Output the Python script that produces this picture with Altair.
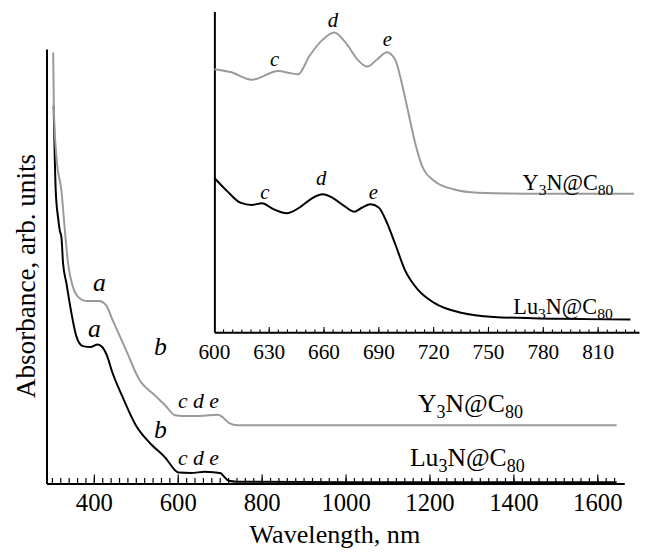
import altair as alt
import pandas as pd

# ---------------- main spectra ----------------
y3n_wl = [301.9, 303.5, 310, 321.6, 330, 337.2, 349, 360.7, 380.5, 411.8, 427.5, 443, 474.6,
          505.9, 545.2, 568.7, 592.2, 623.5, 660, 695, 705, 721.6, 741, 900, 1200, 1645]
y3n_abs = [0.992, 0.862, 0.748, 0.673, 0.58, 0.507, 0.452, 0.430, 0.420, 0.420, 0.411, 0.377, 0.309,
           0.241, 0.202, 0.180, 0.157, 0.155, 0.156, 0.158, 0.153, 0.139, 0.134, 0.134, 0.134, 0.134]

lu3n_wl = [303.0, 308, 313.6, 317.6, 321.6, 325.4, 333.4, 345.2, 357, 372.5, 392.2, 407.8, 418.8,
           430.6, 442.4, 465.9, 498.8, 536.5, 569.4, 593, 600, 630.6, 663.5, 690, 700, 710, 720,
           740, 1000, 1645]
lu3n_abs = [0.87, 0.673, 0.611, 0.582, 0.566, 0.507, 0.461, 0.393, 0.339, 0.316, 0.314, 0.320, 0.314,
            0.293, 0.257, 0.202, 0.134, 0.089, 0.059, 0.030, 0.025, 0.024, 0.027, 0.025, 0.024, 0.015,
            0.006, 0.004, 0.003, 0.003]

# ---------------- inset spectra ----------------
y3n_in_wl = [600, 608.8, 620.5, 635, 640.4, 645.8, 652, 659.3, 665.6, 671.9, 679.1, 683.6, 689,
             694.4, 698.9, 702.5, 706.1, 709.7, 713.4, 720.5, 731.4, 744, 771, 829.6]
y3n_in_abs = [0.82, 0.811, 0.787, 0.814, 0.809, 0.804, 0.861, 0.912, 0.934, 0.902, 0.845, 0.828, 0.850,
              0.873, 0.850, 0.778, 0.686, 0.594, 0.522, 0.471, 0.445, 0.435, 0.432, 0.432]

lu3n_in_wl = [600, 607, 614.2, 620.5, 626, 632.3, 639.5, 646.6, 653, 659.3, 664.7, 671, 676.4, 680.9,
              685.4, 689.9, 694.4, 698.9, 704.3, 711.5, 720.5, 735, 753, 789, 827.7]
lu3n_in_abs = [0.481, 0.44, 0.404, 0.397, 0.402, 0.384, 0.371, 0.389, 0.416, 0.430, 0.419, 0.394, 0.376,
               0.389, 0.399, 0.389, 0.342, 0.276, 0.194, 0.132, 0.091, 0.061, 0.048, 0.042, 0.040]

# ---------------- labels ----------------
ab_text = ["a", "a", "b", "b"]
ab_wl = [411.8, 400, 557.6, 557.6]
ab_abs = [0.461, 0.355, 0.314, 0.123]

cde_text = ["c d e", "c d e"]
cde_wl = [648, 648]
cde_abs = [0.189, 0.059]

y3n_parts = [("Y", False), ("3", True), ("N@C", False), ("80", True)]
lu3n_parts = [("Lu", False), ("3", True), ("N@C", False), ("80", True)]
name_wl = [1296.5, 1289]
name_abs = [0.184, 0.059]

in_pk_text = ["c", "d", "e", "c", "d", "e"]
in_pk_wl = [633, 664.9, 694.6, 627.6, 658.4, 687]
in_pk_abs = [0.849, 0.969, 0.911, 0.434, 0.477, 0.434]

in_name_wl = [793.5, 790.8]
in_name_abs = [0.465, 0.08]

x_title = "Wavelength, nm"
y_title = "Absorbance, arb. units"

main_ticks_values = [400, 600, 800, 1000, 1200, 1400, 1600]
main_tick_labels = ["400", "600", "800", "1000", "1200", "1400", "1600"]
main_minor = list(range(300, 1641, 20))
inset_ticks_values = [600, 630, 660, 690, 720, 750, 780, 810]
inset_tick_labels = ["600", "630", "660", "690", "720", "750", "780", "810"]
inset_minor = list(range(605, 831, 5))
inset_major = [630, 660, 690, 720, 750, 780, 810]

FONT = "Liberation Serif"
GRAY = "#9a9a9a"
W, H = 600, 478
MAIN_BOTTOM = 478
INSET_BOTTOM = 325

GLYPH_W = {"Y": 0.722, "L": 0.611, "u": 0.5, "N": 0.722, "@": 0.921, "C": 0.667,
           "0": 0.5, "3": 0.5, "8": 0.5}

sx_main = alt.Scale(domain=[286, 1663], range=[0, 585], nice=False, zero=False)
sy_main = alt.Scale(domain=[0, 1], range=[MAIN_BOTTOM, 38], nice=False)
sx_in = alt.Scale(domain=[600, 832.4], range=[170, 600], nice=False, zero=False)
sy_in = alt.Scale(domain=[0, 1], range=[INSET_BOTTOM, 0], nice=False)

ax_main_x = alt.Axis(title=None, labels=False, ticks=False, grid=False,
                     domainColor="black", domainWidth=2, orient="bottom")
ax_main_y = alt.Axis(title=None, labels=False, ticks=False, grid=False,
                     domainColor="black", domainWidth=2, orient="left")
ax_in_x = alt.Axis(title=None, labels=False, ticks=False, grid=False,
                   domainColor="black", domainWidth=2,
                   orient="bottom", offset=-(MAIN_BOTTOM - INSET_BOTTOM))
ax_in_y = alt.Axis(title=None, labels=False, ticks=False, grid=False, domainColor="black", domainWidth=2,
                   orient="left", offset=-170)


def enc(sx, sy, axx=None, axy=None, fx="wl", fy="abs"):
    if axx is None:
        x = alt.X(f"{fx}:Q", scale=sx)
        y = alt.Y(f"{fy}:Q", scale=sy)
    else:
        x = alt.X(f"{fx}:Q", scale=sx, axis=axx)
        y = alt.Y(f"{fy}:Q", scale=sy, axis=axy)
    return x, y


def mxy(fx="wl", fy="abs"):
    return enc(sx_main, sy_main, None, None, fx, fy)


def ixy(fx="wl", fy="abs"):
    return enc(sx_in, sy_in, None, None, fx, fy)


def formula(parts, wl, ab, fs, xyf):
    sub_fs = fs * 0.7
    widths = [sum(GLYPH_W[ch] for ch in txt) * (sub_fs if sub else fs) for txt, sub in parts]
    total = sum(widths)
    layers = []
    pos = -total / 2
    for (txt, sub), w in zip(parts, widths):
        x, y = xyf()
        layers.append(
            alt.Chart(pd.DataFrame({"wl": [wl], "abs": [ab], "txt": [txt]})).mark_text(
                font=FONT, fontSize=sub_fs if sub else fs, align="left", baseline="alphabetic",
                dx=pos, dy=fs * 0.33 + (fs * 0.22 if sub else 0), color="black"
            ).encode(x=x, y=y, text="txt:N")
        )
        pos += w
    return layers


df_lu = pd.DataFrame({"wl": lu3n_wl, "abs": lu3n_abs})
df_y = pd.DataFrame({"wl": y3n_wl, "abs": y3n_abs})
df_lu_in = pd.DataFrame({"wl": lu3n_in_wl, "abs": lu3n_in_abs})
df_y_in = pd.DataFrame({"wl": y3n_in_wl, "abs": y3n_in_abs})

# ---------------- main panel ----------------
mx0, my0 = enc(sx_main, sy_main, ax_main_x, ax_main_y)
main_layers = [
    alt.Chart(df_lu).mark_line(color="black", strokeWidth=2, interpolate="monotone").encode(x=mx0, y=my0),
]
x, y = mxy()
main_layers.append(alt.Chart(df_y).mark_line(color=GRAY, strokeWidth=2, interpolate="monotone").encode(x=x, y=y))
x, y = mxy("t")
main_layers.append(alt.Chart(pd.DataFrame({"t": main_minor})).mark_rule(color="black", strokeWidth=1.2).encode(
    x=x, y=alt.value(MAIN_BOTTOM), y2=alt.value(MAIN_BOTTOM - 5.5)))
main_layers.append(alt.Chart(pd.DataFrame({"t": main_ticks_values})).mark_rule(color="black", strokeWidth=1.2).encode(
    x=x, y=alt.value(MAIN_BOTTOM), y2=alt.value(MAIN_BOTTOM - 9)))
main_layers.append(alt.Chart(pd.DataFrame({"t": main_ticks_values, "lab": main_tick_labels})).mark_text(
    font=FONT, fontSize=25, baseline="alphabetic", align="center", color="black").encode(
    x=x, y=alt.value(MAIN_BOTTOM + 28), text="lab:N"))
x, y = mxy()
main_layers.append(alt.Chart(pd.DataFrame({"wl": ab_wl, "abs": ab_abs, "txt": ab_text})).mark_text(
    font=FONT, fontStyle="italic", fontSize=26, baseline="middle", color="black").encode(
    x=x, y=y, text="txt:N"))
main_layers.append(alt.Chart(pd.DataFrame({"wl": cde_wl, "abs": cde_abs, "txt": cde_text})).mark_text(
    font=FONT, fontStyle="italic", fontSize=22, baseline="middle", color="black").encode(
    x=x, y=y, text="txt:N"))
main_layers += formula(y3n_parts, name_wl[0], name_abs[0], 26, mxy)
main_layers += formula(lu3n_parts, name_wl[1], name_abs[1], 26, mxy)

# axis titles
main_layers.append(alt.Chart(pd.DataFrame({"txt": [x_title]})).mark_text(
    font=FONT, fontSize=26.5, baseline="alphabetic", align="center", color="black").encode(
    x=alt.value(292), y=alt.value(MAIN_BOTTOM + 60.5), text="txt:N"))
main_layers.append(alt.Chart(pd.DataFrame({"txt": [y_title]})).mark_text(
    font=FONT, fontSize=27.5, baseline="alphabetic", align="center", angle=270, color="black").encode(
    x=alt.value(-12), y=alt.value(268), text="txt:N"))

# ---------------- inset panel ----------------
ix0, iy0 = enc(sx_in, sy_in, ax_in_x, ax_in_y)
inset_layers = [
    alt.Chart(df_lu_in).mark_line(color="black", strokeWidth=2, interpolate="monotone").encode(x=ix0, y=iy0),
]
x, y = ixy()
inset_layers.append(alt.Chart(df_y_in).mark_line(color=GRAY, strokeWidth=2, interpolate="monotone").encode(x=x, y=y))
x, y = ixy("t")
inset_layers.append(alt.Chart(pd.DataFrame({"t": inset_minor})).mark_rule(color="black", strokeWidth=1.1).encode(
    x=x, y=alt.value(INSET_BOTTOM), y2=alt.value(INSET_BOTTOM - 3)))
inset_layers.append(alt.Chart(pd.DataFrame({"t": inset_major})).mark_rule(color="black", strokeWidth=1.1).encode(
    x=x, y=alt.value(INSET_BOTTOM), y2=alt.value(INSET_BOTTOM - 5.5)))
inset_layers.append(alt.Chart(pd.DataFrame({"t": inset_ticks_values, "lab": inset_tick_labels})).mark_text(
    font=FONT, fontSize=21.5, baseline="alphabetic", align="center", color="black").encode(
    x=x, y=alt.value(INSET_BOTTOM + 27), text="lab:N"))
x, y = ixy()
inset_layers.append(alt.Chart(pd.DataFrame({"wl": in_pk_wl, "abs": in_pk_abs, "txt": in_pk_text})).mark_text(
    font=FONT, fontStyle="italic", fontSize=21, baseline="middle", color="black").encode(
    x=x, y=y, text="txt:N"))
inset_layers += formula(y3n_parts, in_name_wl[0], in_name_abs[0], 22.5, ixy)
inset_layers += formula(lu3n_parts, in_name_wl[1], in_name_abs[1], 22.5, ixy)

main = alt.layer(*main_layers)
inset = alt.layer(*inset_layers)

chart = alt.layer(main, inset).resolve_scale(
    x="independent", y="independent"
).resolve_axis(
    x="independent", y="independent"
).properties(
    width=W, height=H,
    autosize=alt.AutoSizeParams(type="none"),
    padding={"left": 39, "top": 0, "right": 3, "bottom": 66},
    background="white",
).configure_view(
    stroke=None
)

chart.save("out.html", embed_options={"renderer": "svg", "actions": False})
